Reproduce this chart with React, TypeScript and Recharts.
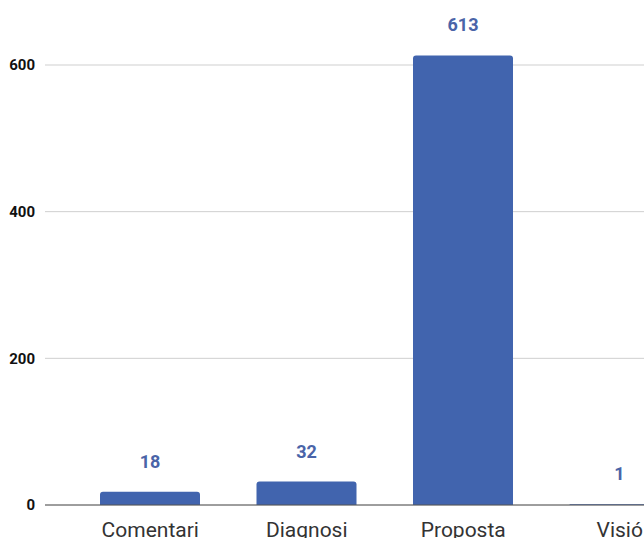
import React from "react";
import { BarChart, Bar, XAxis, YAxis, CartesianGrid, LabelList } from "recharts";

const categories = ["Comentari", "Diagnosi", "Proposta", "Visió"];
const counts = [18, 32, 613, 1];
const yTicks = [0, 200, 400, 600];

const data = categories.map((name, i) => ({ name, value: counts[i] }));

export default function App() {
  return (
    <div
      style={{
        position: "fixed",
        top: 0,
        left: 0,
        width: 644,
        height: 538,
        overflow: "hidden",
        background: "#fff",
        fontFamily: "Roboto, sans-serif",
      }}
    >
      <BarChart
        width={740}
        height={560}
        data={data}
        margin={{ top: 21, right: 15, left: 0, bottom: 0 }}
      >
        <CartesianGrid vertical={false} stroke="#cfcfcf" horizontalValues={yTicks} />
        <XAxis
          dataKey="name"
          height={55}
          padding={{ left: 27, right: 27 }}
          tickLine={false}
          tickSize={0}
          tickMargin={17}
          stroke="#555"
          tick={{ fontSize: 21, fill: "#333" }}
          interval={0}
        />
        <YAxis
          width={45}
          domain={[0, 660]}
          ticks={yTicks}
          axisLine={false}
          tickLine={false}
          tickSize={0}
          tickMargin={10}
          tick={{ fontSize: 15, fill: "#111", fontWeight: 700 }}
        />
        <Bar
          dataKey="value"
          fill="#4164ae"
          barSize={100}
          radius={[3, 3, 0, 0]}
          isAnimationActive={false}
        >
          <LabelList
            dataKey="value"
            position="top"
            offset={24}
            fill="#4a64a8"
            fontSize={18}
            fontWeight={700}
          />
        </Bar>
      </BarChart>
    </div>
  );
}
